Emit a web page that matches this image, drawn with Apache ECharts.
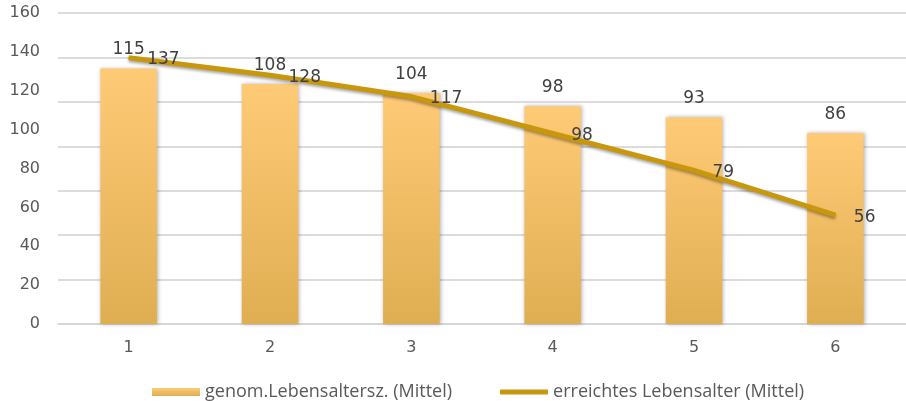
<!DOCTYPE html>
<html>
<head>
<meta charset="utf-8">
<script src="https://cdn.jsdelivr.net/npm/echarts@6/dist/echarts.min.js"></script>
<style>
  html, body { margin: 0; padding: 0; background: #fff; }
  #main { width: 906px; height: 401px; }
</style>
</head>
<body>
<div id="main"></div>
<script>
const categories = ['1', '2', '3', '4', '5', '6'];
const genomAlter = [115, 108, 104, 98, 93, 86];
const erreichtAlter = [137, 128, 117, 98, 79, 56];
const seriesNames = ['genom.Lebensaltersz. (Mittel)', 'erreichtes Lebensalter (Mittel)'];

(function() {
    var chartDom = document.getElementById('main');
    var myChart = echarts.init(chartDom);
    var option;

    const barColor = new echarts.graphic.LinearGradient(0, 0, 0, 1, [
        { offset: 0, color: '#ffca76' },
        { offset: 1, color: '#dfae52' }
    ]);

    option = {
        animation: false,
        textStyle: { fontFamily: 'DejaVu Sans' },
        grid: {
            left: 58,
            right: -4,
            top: 13,
            bottom: 77
        },
        legend: {
            left: 147,
            top: 378,
            itemWidth: 48,
            itemHeight: 8,
            itemGap: 48,
            textStyle: {
                fontFamily: 'Open Sans',
                fontSize: 18,
                color: '#595959'
            },
            data: [
                { name: seriesNames[0], icon: 'rect' },
                { name: seriesNames[1], icon: 'path://M0,0 L48,0 L48,5 L0,5 Z' }
            ]
        },
        xAxis: {
            type: 'category',
            data: categories,
            axisTick: { show: false },
            axisLine: { lineStyle: { color: '#d4d4d4', width: 1.5 } },
            axisLabel: { fontSize: 16, color: '#595959', margin: 16 }
        },
        yAxis: [
            {
                type: 'value',
                min: 0,
                max: 160,
                interval: 20,
                splitLine: { show: false },
                axisLine: { show: false },
                axisTick: { show: false },
                axisLabel: { fontSize: 16, color: '#595959', margin: 18 }
            },
            {
                type: 'value',
                min: 0,
                max: 140,
                interval: 20,
                position: 'left',
                axisLabel: { show: false },
                axisLine: { show: false },
                axisTick: { show: false },
                splitLine: { lineStyle: { color: '#d0d0d0', width: 1.5 } }
            }
        ],
        series: [
            {
                name: seriesNames[0],
                type: 'bar',
                yAxisIndex: 1,
                barWidth: '40%',
                data: genomAlter,
                itemStyle: {
                    color: barColor,
                    shadowColor: 'rgba(0,0,0,0.3)',
                    shadowBlur: 4,
                    shadowOffsetX: 1
                },
                label: {
                    show: true,
                    position: 'top',
                    distance: 10,
                    fontSize: 17,
                    color: '#404040'
                }
            },
            {
                name: seriesNames[1],
                type: 'line',
                yAxisIndex: 0,
                data: erreichtAlter,
                symbol: 'circle',
                symbolSize: 1,
                showSymbol: true,
                z: 3,
                lineStyle: {
                    color: '#c8970c',
                    width: 5,
                    shadowColor: 'rgba(0,0,0,0.35)',
                    shadowBlur: 3,
                    shadowOffsetY: 2
                },
                itemStyle: { color: '#c8970c' },
                label: {
                    show: true,
                    position: 'right',
                    distance: 18,
                    fontSize: 17,
                    color: '#404040',
                    offset: [0, 2]
                }
            }
        ]
    };

    myChart.setOption(option);
})();
</script>
</body>
</html>
